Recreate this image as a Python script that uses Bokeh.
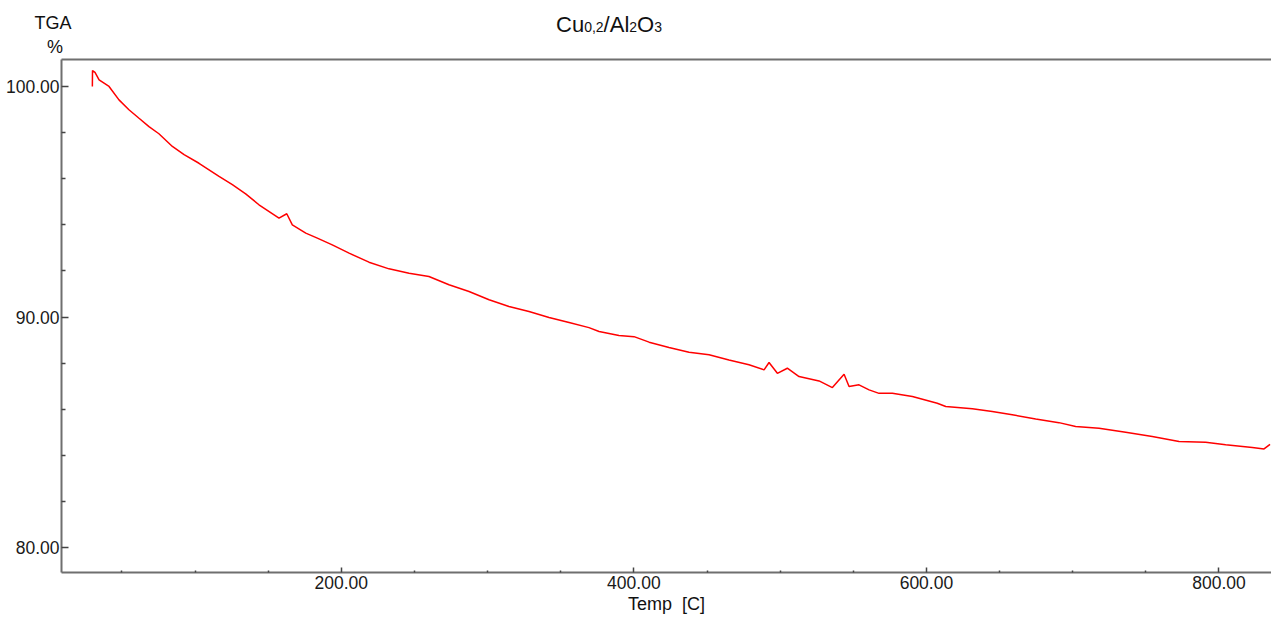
from bokeh.plotting import figure
from bokeh.models import Range1d, FixedTicker, LinearAxis, NumeralTickFormatter, Div
from bokeh.layouts import column
from bokeh.embed import file_html
from bokeh.resources import INLINE

# ---- data ----
temp = [29.8, 29.9, 31.6, 34.4, 41.2, 48.0, 54.8, 61.7, 68.5, 75.3, 84.5, 92.5,
        102.7, 116.4, 125.5, 134.6, 143.7, 157.4, 162.7, 166.5, 175.7, 183.6, 193.8,
        205.3, 218.9, 232.6, 246.3, 259.9, 273.6, 287.3, 301.0, 314.6, 328.3, 342.0,
        355.7, 369.3, 376.2, 389.8, 400.1, 410.4, 424.0, 437.7, 451.4, 465.0, 478.7,
        489.0, 492.4, 498.1, 504.9, 512.9, 526.6, 535.7, 543.7, 547.1, 553.9, 560.8,
        567.6, 576.7, 590.4, 607.4, 613.2, 631.4, 645.0, 658.7, 674.7, 690.6, 702.0,
        718.0, 736.2, 754.4, 772.7, 790.9, 804.6, 822.8, 830.8, 834.9]
tga = [100.00, 100.69, 100.61, 100.29, 100.00, 99.42, 98.99, 98.62, 98.26, 97.95, 97.40, 97.04,
       96.67, 96.10, 95.74, 95.34, 94.87, 94.29, 94.48, 94.00, 93.64, 93.42, 93.13,
       92.77, 92.38, 92.09, 91.90, 91.76, 91.40, 91.11, 90.75, 90.46, 90.24, 89.98,
       89.76, 89.54, 89.37, 89.20, 89.15, 88.91, 88.68, 88.47, 88.36, 88.14, 87.93,
       87.71, 88.03, 87.56, 87.78, 87.42, 87.23, 86.94, 87.52, 86.99, 87.06, 86.84,
       86.69, 86.69, 86.55, 86.26, 86.12, 86.02, 85.90, 85.76, 85.58, 85.42, 85.25,
       85.18, 85.00, 84.82, 84.60, 84.57, 84.46, 84.34, 84.28, 84.48]

x_major_ticks = [200, 400, 600, 800]
x_minor_ticks = [50, 100, 150, 250, 300, 350, 450, 500, 550, 650, 700, 750]
y_major_ticks = [80, 90, 100]
y_minor_ticks = [82, 84, 86, 88, 92, 94, 96, 98]

title_parts = [("Cu", 22), ("0,2", 14), ("/Al", 22), ("2", 14), ("O", 22), ("3", 14)]
x_label = "Temp\u00a0 [C]"
y_label_top = "TGA"
y_label_unit = "%"

FONT = "Liberation Sans"

# ---- header (title and unit label) as real HTML text ----
title_html = "".join(
    f'<span style="font-size:{s}px">{t}</span>' for t, s in title_parts)
header_html = (
    f'<div style="position:relative;width:1271px;height:56px;font-family:\'{FONT}\';color:#111;">'
    f'<div style="position:absolute;left:32px;top:14px;width:42px;text-align:center;'
    f'font-size:18px;line-height:18px;">{y_label_top}</div>'
    f'<div style="position:absolute;left:34px;top:38px;width:42px;text-align:center;'
    f'font-size:18px;line-height:18px;">{y_label_unit}</div>'
    f'<div style="position:absolute;left:556px;top:14px;white-space:nowrap;'
    f'font-size:22px;line-height:22px;">{title_html}</div>'
    '</div>'
)
header = Div(text=header_html, width=1271, height=56, margin=(0, 0, 0, 0))

p = figure(width=1271, height=564,
           x_range=Range1d(8.7, 835.9), y_range=Range1d(78.92, 101.17),
           output_backend="svg", toolbar_location=None, margin=(0, 0, 0, 0),
           min_border_left=61, min_border_right=0, min_border_top=3, min_border_bottom=48)

p.outline_line_color = None
p.xgrid.visible = False
p.ygrid.visible = False
p.background_fill_color = "white"
p.border_fill_color = "white"

p.line(temp, tga, line_color="#ff0000", line_width=1.5)

p.xaxis.ticker = FixedTicker(ticks=x_major_ticks, minor_ticks=x_minor_ticks)
p.yaxis.ticker = FixedTicker(ticks=y_major_ticks, minor_ticks=y_minor_ticks)

for ax in list(p.xaxis) + list(p.yaxis):
    ax.axis_line_color = "#6f6f6f"
    ax.axis_line_width = 2
    ax.major_tick_out = 0
    ax.minor_tick_out = 0
    ax.major_tick_line_color = "#444444"
    ax.minor_tick_line_color = "#444444"
    ax.major_tick_line_width = 1.5
    ax.minor_tick_line_width = 1.5
    ax.formatter = NumeralTickFormatter(format="0.00")
    ax.major_label_text_font = FONT
    ax.major_label_text_font_size = "17.5px"
    ax.major_label_text_color = "#1a1a1a"

p.xaxis.major_tick_in = 5
p.xaxis.minor_tick_in = 2
p.xaxis.major_label_standoff = 3
p.xaxis.axis_label = x_label
p.xaxis.axis_label_standoff = 2
p.xaxis.axis_label_text_font = FONT
p.xaxis.axis_label_text_font_size = "18px"
p.xaxis.axis_label_text_font_style = "normal"
p.xaxis.axis_label_text_color = "#111111"

p.yaxis.major_tick_in = 7
p.yaxis.minor_tick_in = 4
p.yaxis.major_label_standoff = 2

top = LinearAxis(ticker=FixedTicker(ticks=[]), axis_line_color="#6f6f6f", axis_line_width=2,
                 major_tick_line_color=None, minor_tick_line_color=None,
                 major_tick_in=0, major_tick_out=0, minor_tick_in=0, minor_tick_out=0,
                 major_label_standoff=0, major_label_text_font_size="0px")
p.add_layout(top, "above")

layout = column(header, p, spacing=0, margin=(0, 0, 0, 0))

open("out.html", "w").write(file_html(layout, INLINE))
